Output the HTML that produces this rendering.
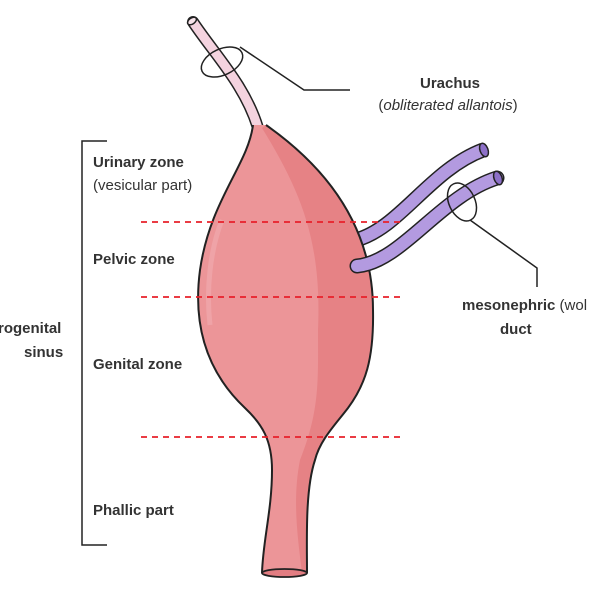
<!DOCTYPE html>
<html><head><meta charset="utf-8"><style>
html,body{margin:0;padding:0;background:#fff;}
svg{display:block}
text{font-family:"Liberation Sans",sans-serif;font-size:15px;fill:#333}
.b{font-weight:bold}
</style></head><body>
<svg width="600" height="600" viewBox="0 0 600 600" xmlns="http://www.w3.org/2000/svg">
<!-- urachus tube -->
<path d="M193,22 C215,55 245,85 258,128" stroke="#222" stroke-width="12" fill="none" stroke-linecap="round"/>
<path d="M193,22 C215,55 245,85 258,128" stroke="#f4d3df" stroke-width="9" fill="none" stroke-linecap="round"/>
<ellipse cx="192" cy="21" rx="5" ry="3" transform="rotate(-35 192 21)" fill="#f7e3ea" stroke="#222" stroke-width="1.5"/>
<!-- upper duct (behind body) -->
<path d="M356,240 C400,228 430,170 483,150" stroke="#222" stroke-width="15" fill="none"/>
<path d="M356,240 C400,228 430,170 483,150" stroke="#b39ae0" stroke-width="12" fill="none"/>
<ellipse cx="484" cy="150" rx="4" ry="7" transform="rotate(-20 484 150)" fill="#8d70c8" stroke="#222" stroke-width="1.5"/>
<!-- body -->
<path d="M253,125 C248,165 210,200 200,270 C192,330 210,375 245,408 C262,424 272,440 272,470 C272,510 263,540 262,573 L307,573 C307,540 305,490 315,460 C320,440 335,425 348,408 C365,385 374,360 373,310 C373,230 330,170 266,125 Z" fill="#ec9598"/>
<path d="M262,128 C300,190 322,240 318,330 C318,380 320,410 300,460 C292,500 298,540 302,573 L307,573 C307,540 305,490 315,460 C320,440 335,425 348,408 C365,385 374,360 373,310 C373,230 330,170 266,125 Z" fill="#e57d81" opacity="0.8"/>
<path d="M222,220 C210,250 206,290 210,325" stroke="#f2adb0" stroke-width="5" fill="none" opacity="0.6"/>
<path d="M253,125 C248,165 210,200 200,270 C192,330 210,375 245,408 C262,424 272,440 272,470 C272,510 263,540 262,573 M307,573 C307,540 305,490 315,460 C320,440 335,425 348,408 C365,385 374,360 373,310 C373,230 330,170 266,125" fill="none" stroke="#222" stroke-width="2"/>
<ellipse cx="284.5" cy="573" rx="22.5" ry="4" fill="#e27d82" stroke="#222" stroke-width="1.8"/>
<!-- lower duct (over body edge) -->
<path d="M357,266 C402,262 440,196 497,178" stroke="#222" stroke-width="15" fill="none" stroke-linecap="round"/>
<path d="M357,266 C402,262 440,196 497,178" stroke="#b39ae0" stroke-width="12" fill="none" stroke-linecap="round"/>
<ellipse cx="498" cy="178" rx="4" ry="7" transform="rotate(-20 498 178)" fill="#8d70c8" stroke="#222" stroke-width="1.5"/>
<!-- urachus loop + line -->
<ellipse cx="222" cy="62" rx="22" ry="13" transform="rotate(-25 222 62)" fill="none" stroke="#222" stroke-width="1.5"/>
<polyline points="240,47 304,90 350,90" fill="none" stroke="#222" stroke-width="1.5"/>
<!-- duct loop + line -->
<ellipse cx="462" cy="202" rx="13" ry="20" transform="rotate(-25 462 202)" fill="none" stroke="#222" stroke-width="1.5"/>
<polyline points="470,220 537,268 537,287" fill="none" stroke="#222" stroke-width="1.5"/>
<!-- dashed -->
<g stroke="#e8202a" stroke-width="1.8" stroke-dasharray="6,5">
<line x1="141" y1="222" x2="405" y2="222"/>
<line x1="141" y1="297" x2="405" y2="297"/>
<line x1="141" y1="437" x2="405" y2="437"/>
</g>
<!-- bracket -->
<polyline points="107,141 82,141 82,545 107,545" fill="none" stroke="#222" stroke-width="1.5"/>
<text class="b" x="93" y="167">Urinary zone</text>
<text x="93" y="190">(vesicular part)</text>
<text class="b" x="93" y="264">Pelvic zone</text>
<text class="b" x="93" y="369">Genital zone</text>
<text class="b" x="93" y="515">Phallic part</text>
<text class="b" x="-2" y="333">rogenital</text>
<text class="b" x="24" y="357">sinus</text>
<text class="b" x="450" y="88" text-anchor="middle">Urachus</text>
<text x="448" y="110" text-anchor="middle">(<tspan font-style="italic">obliterated allantois</tspan>)</text>
<text x="462" y="310"><tspan class="b">mesonephric</tspan> (wol</text>
<text class="b" x="500" y="334">duct</text>
</svg>
</body></html>
